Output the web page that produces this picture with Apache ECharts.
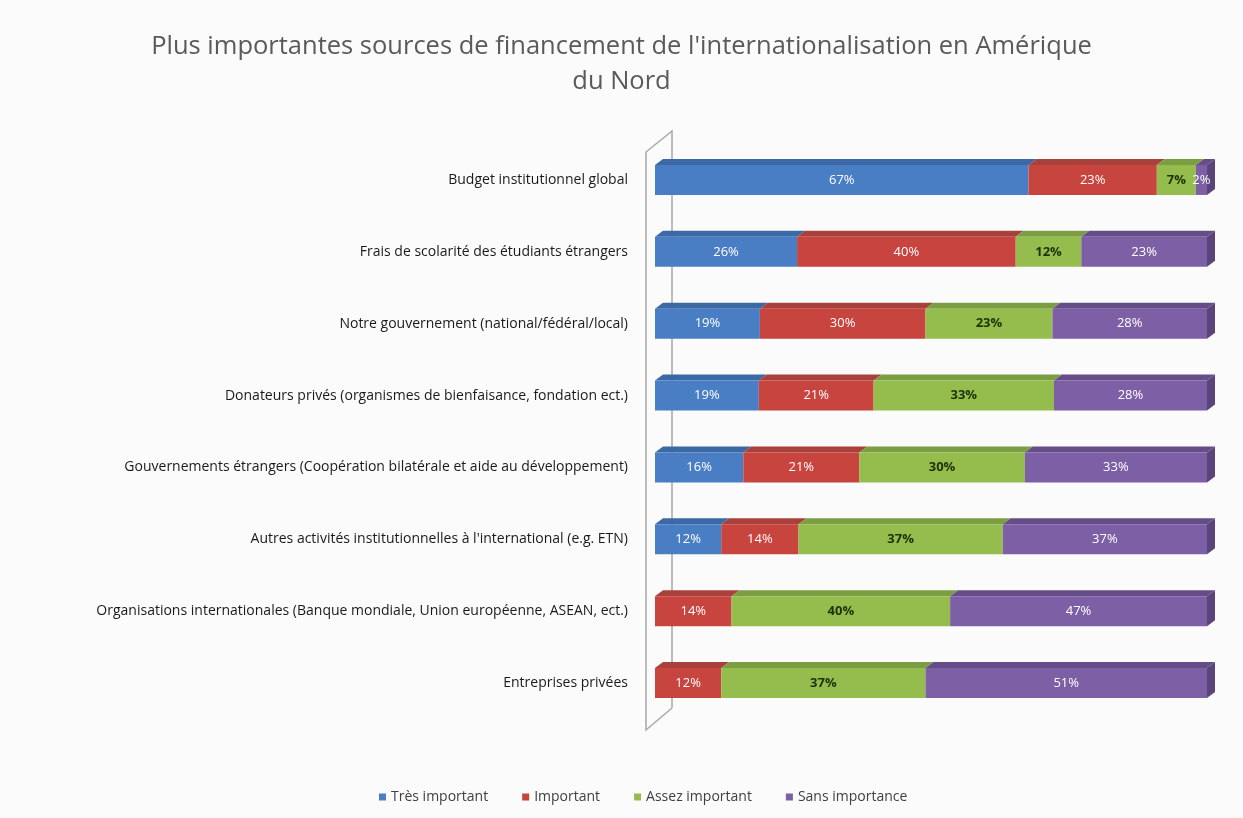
<!DOCTYPE html>
<html>
<head>
<meta charset="utf-8">
<script src="https://cdn.jsdelivr.net/npm/echarts@6/dist/echarts.min.js"></script>
<style>
  html, body { margin: 0; padding: 0; background: #fbfbfb; }
  #main { width: 1243px; height: 818px; }
</style>
</head>
<body>
<div id="main"></div>
<script>
// catégories, du haut vers le bas
var categories = [
  'Budget institutionnel global',
  'Frais de scolarité des étudiants étrangers',
  'Notre gouvernement (national/fédéral/local)',
  'Donateurs privés (organismes de bienfaisance, fondation ect.)',
  'Gouvernements étrangers (Coopération bilatérale et aide au développement)',
  'Autres activités institutionnelles à l\'international (e.g. ETN)',
  'Organisations internationales (Banque mondiale, Union européenne, ASEAN, ect.)',
  'Entreprises privées'
];
var seriesNames = ['Très important', 'Important', 'Assez important', 'Sans importance'];

// valeurs (%)
var tresImportant   = [67, 26, 19, 19, 16, 12, 0, 0];
var important       = [23, 40, 30, 21, 21, 14, 14, 12];
var assezImportant  = [7, 12, 23, 33, 30, 37, 40, 37];
var sansImportance  = [2, 23, 28, 28, 33, 37, 47, 51];

var colors    = ['#4a7ec4', '#c8443f', '#94bd4e', '#7d5fa6'];
var topColors = ['#3b69a6', '#a8403b', '#7c9e42', '#654d88'];
var sideColor = '#5b4479';
var labelColors = ['#ffffff', '#ffffff', '#1e3104', '#ffffff'];

var raw = [tresImportant, important, assezImportant, sansImportance];

// barres 100 % : part de chaque segment dans le total de la ligne
var totals = categories.map(function (c, i) {
  return raw.reduce(function (s, arr) { return s + arr[i]; }, 0);
});
var shares = raw.map(function (arr) {
  return arr.map(function (v, i) { return v / totals[i] * 100; });
});

// faces 3D (dessus + côté droit)
var depthData = [];
categories.forEach(function (c, i) {
  var start = 0;
  var lastIdx = 0;
  raw.forEach(function (arr, s) { if (arr[i] > 0) lastIdx = s; });
  raw.forEach(function (arr, s) {
    var end = start + shares[s][i];
    if (arr[i] > 0) depthData.push([start, end, i, s, s === lastIdx ? 1 : 0]);
    start = end;
  });
});

var BAR_W = 30, DX = 8, DY = 6;

var chart = echarts.init(document.getElementById('main'));

var series = seriesNames.map(function (name, s) {
  return {
    name: name,
    type: 'bar',
    stack: 'total',
    barWidth: BAR_W,
    z: 3,
    itemStyle: { color: colors[s] },
    label: {
      show: true,
      position: 'inside',
      color: labelColors[s],
      fontFamily: 'Open Sans',
      fontSize: 13,
      fontWeight: s === 2 ? 'bold' : 'normal',
      formatter: function (p) {
        var v = raw[s][p.dataIndex];
        return v > 0 ? v + '%' : '';
      }
    },
    data: shares[s]
  };
});

series.push({
  name: 'depth',
  type: 'custom',
  z: 2,
  silent: true,
  renderItem: function (params, api) {
    var p0 = api.coord([api.value(0), api.value(2)]);
    var p1 = api.coord([api.value(1), api.value(2)]);
    var s = api.value(3);
    var yTop = p0[1] - BAR_W / 2;
    var children = [{
      type: 'polygon',
      shape: { points: [[p0[0], yTop], [p1[0], yTop], [p1[0] + DX, yTop - DY], [p0[0] + DX, yTop - DY]] },
      style: { fill: topColors[s] }
    }];
    if (api.value(4) === 1) {
      children.push({
        type: 'polygon',
        shape: { points: [[p1[0], yTop], [p1[0] + DX, yTop - DY], [p1[0] + DX, yTop - DY + BAR_W], [p1[0], yTop + BAR_W]] },
        style: { fill: s === 3 ? sideColor : topColors[s] }
      });
    }
    return { type: 'group', children: children };
  },
  encode: { x: [0, 1], y: 2 },
  data: depthData
});

var option = {
  backgroundColor: '#fbfbfb',
  animation: false,
  title: {
    text: 'Plus importantes sources de financement de l\'internationalisation en Amérique\ndu Nord',
    left: 'center',
    top: 24,
    textStyle: {
      fontFamily: 'Open Sans',
      fontSize: 25.5,
      fontWeight: 'normal',
      color: '#5a5a5a',
      lineHeight: 35
    }
  },
  legend: {
    data: seriesNames,
    bottom: 9,
    left: 374,
    icon: 'rect',
    itemWidth: 7,
    itemHeight: 7,
    itemGap: 34,
    textStyle: { fontFamily: 'Open Sans', fontSize: 14, color: '#404040' }
  },
  grid: { left: 655, right: 36, top: 144, bottom: 99 },
  xAxis: {
    type: 'value',
    min: 0,
    max: 100,
    show: false
  },
  yAxis: {
    type: 'category',
    data: categories,
    inverse: true,
    axisLine: { show: false },
    axisTick: { show: false },
    axisLabel: {
      margin: 27,
      fontFamily: 'Open Sans',
      fontSize: 14,
      color: '#1a1a1a'
    }
  },
  graphic: [{
    type: 'polyline',
    z: 0,
    shape: { points: [[672, 708], [672, 131], [646, 152], [646, 730], [672, 708]] },
    style: { stroke: '#a8a8a8', lineWidth: 1.5, fill: null }
  }],
  series: series
};

chart.setOption(option);
</script>
</body>
</html>
